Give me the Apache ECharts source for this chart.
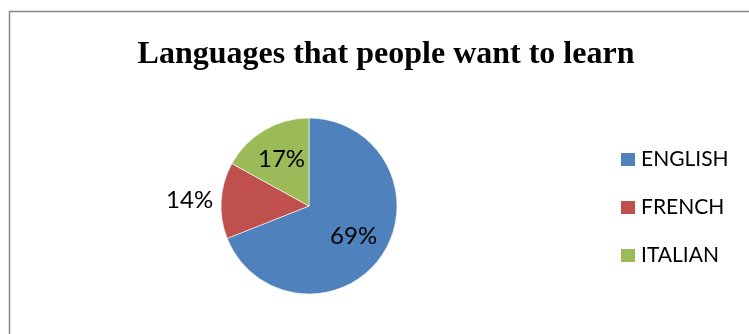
<!DOCTYPE html>
<html>
<head>
<meta charset="utf-8">
<script src="https://cdn.jsdelivr.net/npm/echarts@6/dist/echarts.min.js"></script>
<style>
  html, body { margin: 0; padding: 0; background: #fff; }
  #chart { width: 749px; height: 334px; }
</style>
</head>
<body>
<div id="chart"></div>
<script>
// Survey shares (percent)
const languages = ['ENGLISH', 'FRENCH', 'ITALIAN'];
const shares = [69, 14, 17];
const sliceColors = ['#4F81BD', '#C0504D', '#9BBB59'];

const chart = echarts.init(document.getElementById('chart'), null, { renderer: 'canvas' });

const labelFont = { fontFamily: 'Lato', fontSize: 24, color: '#000' };

// main slices; only the small slice carries an outside label
const sliceData = languages.map((name, i) => ({
  name,
  value: shares[i],
  itemStyle: { color: sliceColors[i] },
  label: name === 'FRENCH'
    ? { show: true, position: 'outside', formatter: '{d}%', distanceToLabelLine: 8, ...labelFont }
    : { show: false },
  labelLine: { show: false, length: 0, length2: 0 }
}));

// transparent twin ring used to place the inside percentages a bit further out
const insideLabelData = languages.map((name, i) => ({
  name,
  value: shares[i],
  itemStyle: { color: 'rgba(0,0,0,0)', borderWidth: 0 },
  label: name === 'FRENCH'
    ? { show: false }
    : { show: true, position: 'inside', formatter: '{d}%', ...labelFont }
}));

chart.setOption({
  animation: false,
  title: {
    text: 'Languages that people want to learn',
    left: 381,
    textAlign: 'center',
    top: 34,
    textStyle: { fontFamily: 'Liberation Serif', fontWeight: 'bold', fontSize: 32, color: '#000' }
  },
  legend: {
    orient: 'vertical',
    left: 614,
    top: 144,
    data: languages,
    icon: 'rect',
    itemWidth: 16,
    itemHeight: 15,
    itemGap: 27,
    textStyle: { fontFamily: 'Lato', fontSize: 21, color: '#000', lineHeight: 20 },
    selectedMode: false
  },
  graphic: [{
    type: 'rect',
    shape: { x: 9.5, y: 11.5, width: 900, height: 500 },
    style: { fill: 'none', stroke: '#888', lineWidth: 1.5 },
    silent: true
  }],
  series: [
    {
      type: 'pie',
      center: [309, 206],
      radius: [0, 88],
      startAngle: 90,
      clockwise: true,
      avoidLabelOverlap: false,
      itemStyle: { borderColor: '#fff', borderWidth: 0.6 },
      emphasis: { disabled: true },
      data: sliceData
    },
    {
      type: 'pie',
      center: [309, 206],
      radius: [0, 102],
      startAngle: 90,
      clockwise: true,
      silent: true,
      avoidLabelOverlap: false,
      emphasis: { disabled: true },
      labelLine: { show: false },
      data: insideLabelData
    }
  ]
});
</script>
</body>
</html>
